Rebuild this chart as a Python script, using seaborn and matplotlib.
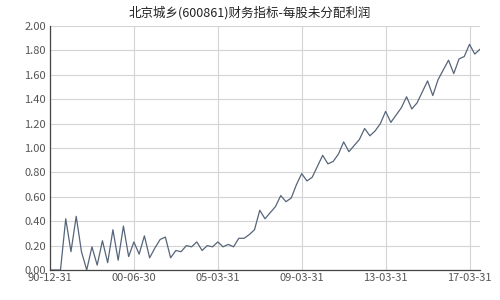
import matplotlib
matplotlib.use("Agg")
import matplotlib.pyplot as plt
import seaborn as sns
import pandas as pd
import numpy as np
from matplotlib.ticker import MultipleLocator

values = [0.00, 0.00, 0.00, 0.42, 0.15, 0.44, 0.15, 0.00, 0.19, 0.04,
          0.24, 0.06, 0.33, 0.08, 0.36, 0.11, 0.23, 0.13, 0.28, 0.10,
          0.18, 0.25, 0.27, 0.10, 0.16, 0.15, 0.20, 0.19, 0.23, 0.16,
          0.20, 0.19, 0.23, 0.19, 0.21, 0.19, 0.26, 0.26, 0.29, 0.33,
          0.49, 0.42, 0.47, 0.52, 0.61, 0.56, 0.59, 0.70, 0.79, 0.73,
          0.76, 0.85, 0.94, 0.87, 0.89, 0.95, 1.05, 0.97, 1.02, 1.07,
          1.16, 1.10, 1.14, 1.20, 1.30, 1.21, 1.27, 1.33, 1.42, 1.32,
          1.37, 1.46, 1.55, 1.43, 1.56, 1.64, 1.72, 1.61, 1.73, 1.75,
          1.85, 1.77, 1.81]
tick_labels = ["90-12-31", "00-06-30", "05-03-31", "09-03-31", "13-03-31", "17-03-31"]
y_ticks = [0.0, 0.2, 0.4, 0.6, 0.8, 1.0, 1.2, 1.4, 1.6, 1.8, 2.0]
title = "北京城乡(600861)财务指标-每股未分配利润"

df = pd.DataFrame({"idx": np.arange(len(values)), "val": values})

sns.set_style("white")
plt.rcParams['font.family'] = ['Noto Sans CJK SC', 'DejaVu Sans']

fig = plt.figure(figsize=(5, 3), dpi=100)
ax = fig.add_axes([0.1, 0.1, 0.86, 0.8133])

sns.lineplot(data=df, x="idx", y="val", ax=ax, color="#56657a", linewidth=0.9)

ax.set_xlim(0, len(values) - 1)
ax.set_ylim(0, 2.0)
step = 16
ax.set_xticks(np.arange(0, step * len(tick_labels), step))
ax.set_xticklabels(tick_labels)
ax.set_yticks(y_ticks)
ax.set_yticklabels([f"{v:.2f}" for v in y_ticks])
ax.yaxis.set_minor_locator(MultipleLocator(0.1))

ax.grid(True, which="major", color="#d4d4d4", linewidth=0.8)
ax.set_axisbelow(True)
for s in ["top", "right"]:
    ax.spines[s].set_visible(False)
for s in ["left", "bottom"]:
    ax.spines[s].set_color("#444444")
    ax.spines[s].set_linewidth(0.9)

ax.tick_params(axis="both", which="major", direction="in", length=4, width=0.8,
               color="#444444", labelsize=8, labelcolor="#555555", pad=3)
ax.tick_params(axis="y", which="minor", direction="in", length=3, width=0.6, color="#444444")
ax.tick_params(axis="x", which="major", pad=2)
ax.set_xlabel("")
ax.set_ylabel("")

fig.text(0.5, 0.958, title, ha="center", va="center", fontsize=9, color="#222222")

fig.savefig("out.png", dpi=100, facecolor="white")
